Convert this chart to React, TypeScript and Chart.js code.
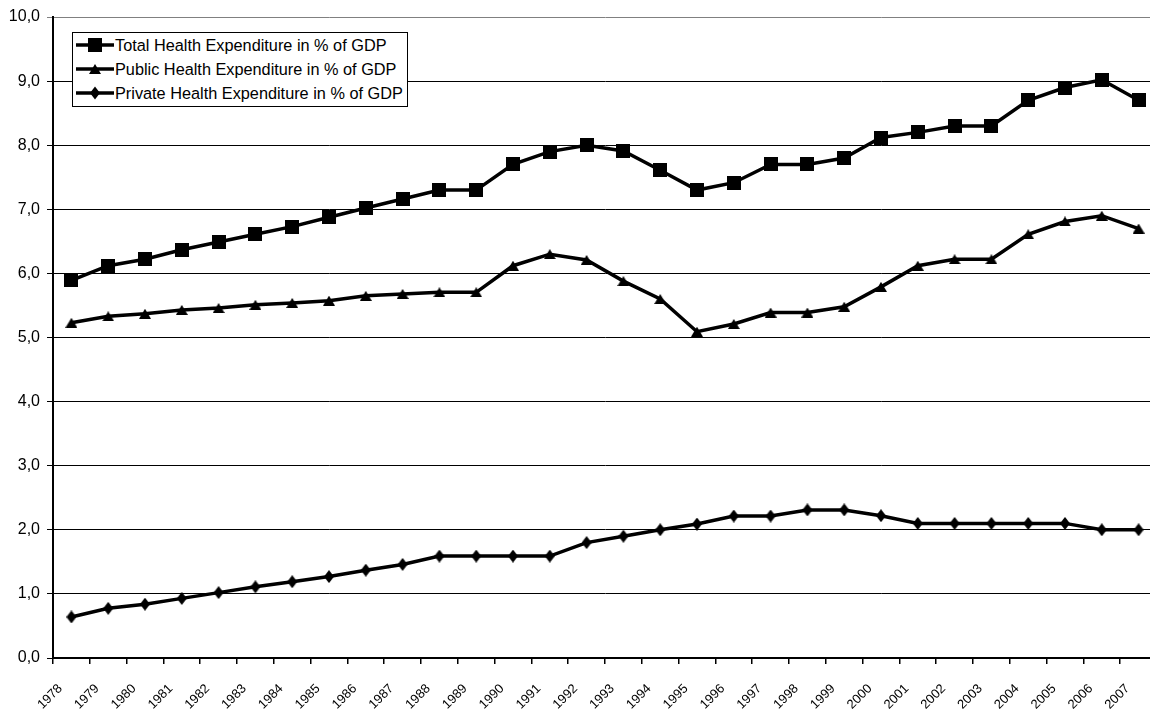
import React, { useEffect, useRef } from 'react';
import { Chart, registerables } from 'chart.js';

Chart.register(...registerables);

const years = ['1978', '1979', '1980', '1981', '1982', '1983', '1984', '1985', '1986', '1987', '1988', '1989', '1990', '1991', '1992', '1993', '1994', '1995', '1996', '1997', '1998', '1999', '2000', '2001', '2002', '2003', '2004', '2005', '2006', '2007'];

const totalExpenditure = [5.89, 6.12, 6.22, 6.37, 6.49, 6.61, 6.73, 6.875, 7.02, 7.16, 7.3, 7.3, 7.7, 7.9, 8.0, 7.91, 7.61, 7.3, 7.415, 7.7, 7.7, 7.8, 8.12, 8.2, 8.3, 8.3, 8.7, 8.9, 9.02, 8.7];
const publicExpenditure = [5.23, 5.33, 5.37, 5.43, 5.46, 5.51, 5.54, 5.575, 5.65, 5.68, 5.705, 5.705, 6.12, 6.3, 6.21, 5.88, 5.6, 5.09, 5.21, 5.39, 5.39, 5.48, 5.79, 6.12, 6.22, 6.22, 6.61, 6.81, 6.9, 6.7];
const privateExpenditure = [0.64, 0.775, 0.84, 0.93, 1.02, 1.11, 1.19, 1.27, 1.37, 1.46, 1.59, 1.59, 1.59, 1.59, 1.8, 1.9, 2.0, 2.09, 2.215, 2.215, 2.31, 2.31, 2.22, 2.1, 2.1, 2.1, 2.1, 2.1, 2.0, 2.0];

const seriesNames = [
  'Total Health Expenditure in % of GDP',
  'Public Health Expenditure in % of GDP',
  'Private Health Expenditure in % of GDP',
];

const FONT = "'Liberation Sans', Arial, sans-serif";

type MarkerKind = 'square' | 'triangle' | 'diamond';

function makeMarker(kind: MarkerKind): HTMLCanvasElement {
  const c = document.createElement('canvas');
  let w = 14;
  let h = 14;
  if (kind === 'triangle') { w = 12; h = 10; }
  if (kind === 'diamond') { w = 10; h = 13; }
  c.width = w;
  c.height = h;
  const g = c.getContext('2d')!;
  g.fillStyle = '#000';
  g.beginPath();
  if (kind === 'square') {
    g.rect(0, 0, w, h);
  } else if (kind === 'triangle') {
    g.moveTo(w / 2, 0);
    g.lineTo(w, h);
    g.lineTo(0, h);
  } else {
    g.moveTo(w / 2, 0);
    g.lineTo(w, h / 2);
    g.lineTo(w / 2, h);
    g.lineTo(0, h / 2);
  }
  g.closePath();
  g.fill();
  return c;
}

function LegendMarker({ kind }: { kind: MarkerKind }) {
  let shape: React.ReactNode = null;
  if (kind === 'square') shape = <rect x={12} y={1} width={14} height={14} fill="#000" />;
  if (kind === 'triangle') shape = <polygon points="19,3 25,13 13,13" fill="#000" />;
  if (kind === 'diamond') shape = <polygon points="19,1.5 24,8 19,14.5 14,8" fill="#000" />;
  return (
    <svg width={38} height={16} style={{ display: 'block' }}>
      <line x1={0} y1={8} x2={38} y2={8} stroke="#000" strokeWidth={3.5} />
      {shape}
    </svg>
  );
}

export default function App() {
  const canvasRef = useRef<HTMLCanvasElement | null>(null);

  useEffect(() => {
    const canvas = canvasRef.current;
    if (!canvas) return;
    const kinds: MarkerKind[] = ['square', 'triangle', 'diamond'];
    const values = [totalExpenditure, publicExpenditure, privateExpenditure];
    const chart = new Chart(canvas, {
      type: 'line',
      data: {
        labels: years,
        datasets: values.map((v, i) => ({
          label: seriesNames[i],
          data: v,
          borderColor: '#000',
          backgroundColor: '#000',
          borderWidth: 3.5,
          tension: 0,
          fill: false,
          pointStyle: makeMarker(kinds[i]) as any,
          pointRadius: 6,
          pointHoverRadius: 6,
        })),
      },
      options: {
        responsive: false,
        animation: false,
        devicePixelRatio: 1,
        layout: { padding: { left: 0, top: 17, right: 13, bottom: 0 } },
        plugins: {
          legend: { display: false },
          tooltip: { enabled: false },
          title: { display: false },
        },
        scales: {
          x: {
            type: 'category',
            offset: true,
            afterFit: (scale: any) => { scale.height = 51; },
            border: { display: true, color: '#000', width: 2 },
            grid: {
              offset: true,
              drawOnChartArea: false,
              drawTicks: true,
              tickLength: 6,
              color: '#000',
              lineWidth: 1.5,
            },
            ticks: {
              autoSkip: false,
              minRotation: 45,
              maxRotation: 45,
              padding: 17,
              labelOffset: -11,
              color: '#000',
              font: { family: FONT, size: 13 },
            },
          },
          y: {
            min: 0,
            max: 10,
            afterFit: (scale: any) => { scale.width = 53; },
            border: { display: true, color: '#000', width: 2 },
            grid: {
              color: (ctx: any) => (ctx.tick && ctx.tick.value === 10 ? '#808080' : '#000'),
              lineWidth: 1,
              drawTicks: true,
              tickLength: 6,
            },
            ticks: {
              stepSize: 1,
              padding: 7,
              color: '#000',
              font: { family: FONT, size: 16 },
              callback: (v: any) => Number(v).toFixed(1).replace('.', ','),
            },
          },
        },
      },
    });
    return () => chart.destroy();
  }, []);

  const legendKinds: MarkerKind[] = ['square', 'triangle', 'diamond'];
  const rowTops = [37, 61, 85];

  return (
    <div style={{ position: 'fixed', left: 0, top: 0, width: 1150, height: 709, overflow: 'hidden', background: '#fff' }}>
      <canvas ref={canvasRef} width={1170} height={709} style={{ position: 'absolute', left: 0, top: 0, width: 1170, height: 709 }} />
      <div style={{ position: 'absolute', left: 72, top: 32, width: 336, height: 75, boxSizing: 'border-box', border: '1px solid #000', background: '#fff' }} />
      {seriesNames.map((name, i) => (
        <div key={name} style={{ position: 'absolute', left: 76, top: rowTops[i], height: 16, display: 'flex', alignItems: 'center', whiteSpace: 'nowrap' }}>
          <LegendMarker kind={legendKinds[i]} />
          <span style={{ fontFamily: FONT, fontSize: 16.3, color: '#000', marginLeft: 1, lineHeight: '16px' }}>{name}</span>
        </div>
      ))}
    </div>
  );
}
